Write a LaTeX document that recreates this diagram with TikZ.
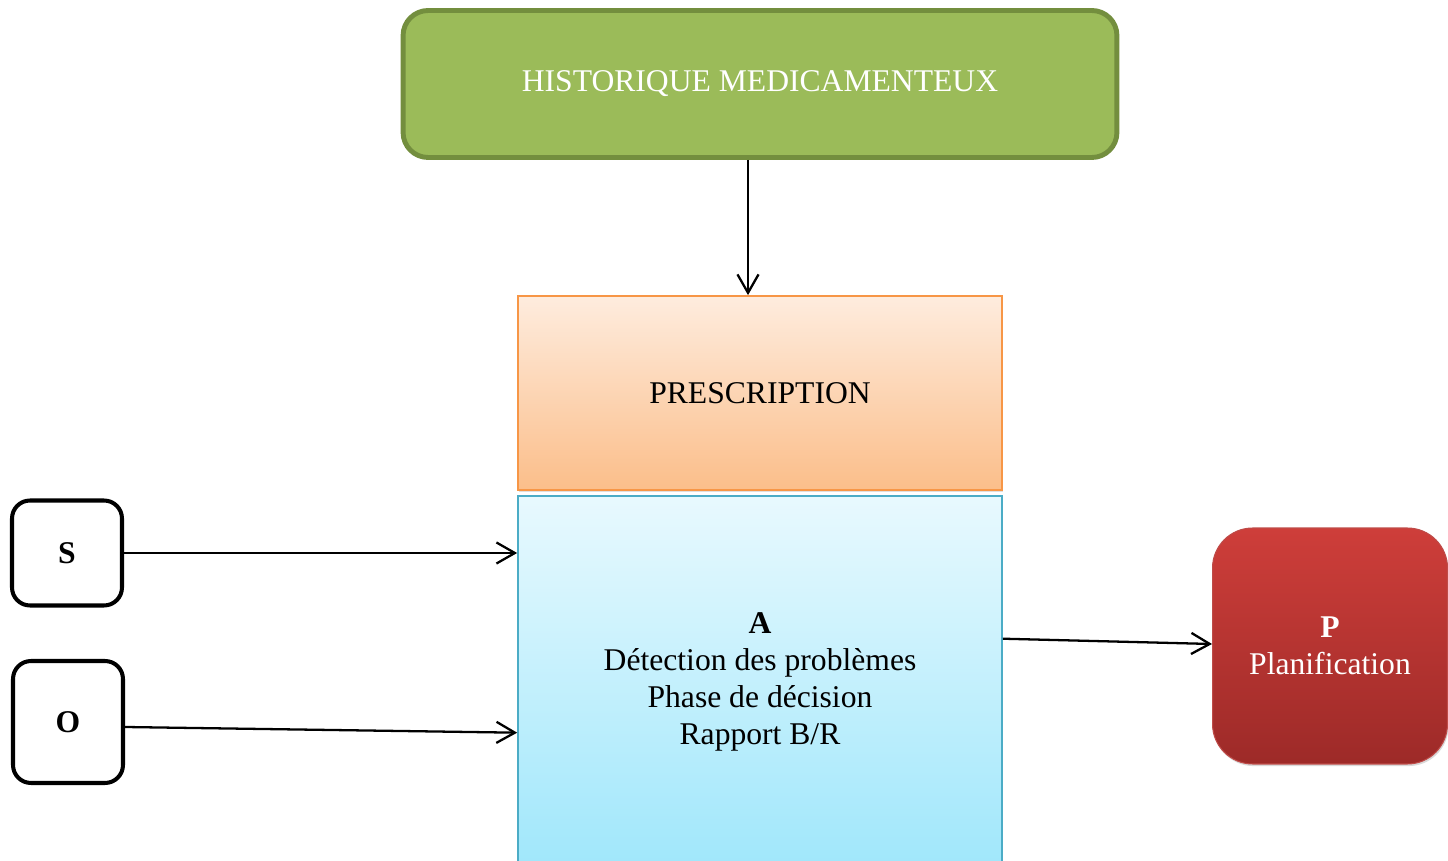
\documentclass[tikz,border=0pt]{standalone}
\usepackage{fontspec}
\setmainfont{Liberation Serif}
\usetikzlibrary{arrows.meta, positioning, shadows}
\definecolor{histfill}{RGB}{155,187,89}
\definecolor{histdraw}{RGB}{115,142,62}
\definecolor{prestop}{RGB}{254,236,222}
\definecolor{presbot}{RGB}{251,190,138}
\definecolor{presdraw}{RGB}{247,150,70}
\definecolor{anatop}{RGB}{232,249,254}
\definecolor{anabot}{RGB}{160,231,251}
\definecolor{anadraw}{RGB}{75,172,198}
\definecolor{plantop}{RGB}{206,62,58}
\definecolor{planbot}{RGB}{157,42,40}
\definecolor{plandraw}{RGB}{190,75,72}

\begin{document}
\begin{tikzpicture}[
    x=0.02cm, y=-0.02cm,
    txt/.style={font=\fontsize{18}{21}\selectfont, align=center, inner sep=0pt},
    hist/.style={txt, draw=histdraw, line width=2.8pt, fill=histfill,
                 rounded corners=0.5cm, text=white,
                 minimum width=14.28cm, minimum height=2.94cm},
    box/.style={txt, line width=1pt, minimum width=9.68cm,
                drop shadow={shadow xshift=0.6pt, shadow yshift=-1pt, opacity=0.25}},
    presc/.style={box, draw=presdraw, top color=prestop, bottom color=presbot,
                  minimum height=3.88cm},
    ana/.style={box, draw=anadraw, top color=anatop, bottom color=anabot,
                minimum height=7.44cm},
    letter/.style={txt, draw, line width=2.3pt, rounded corners=0.36cm,
                   minimum width=2.2cm, font=\fontsize{18}{21}\selectfont\bfseries},
    plan/.style={txt, draw=plandraw, line width=0.6pt, rounded corners=0.8cm,
                 top color=plantop, bottom color=planbot, text=white,
                 minimum width=4.7cm, minimum height=4.72cm,
                 drop shadow={shadow xshift=0.6pt, shadow yshift=-1.2pt, opacity=0.3}},
    arr/.style={-{Straight Barb[length=10.5pt, width=12pt]}, line width=1.3pt}
  ]
  \useasboundingbox (0,0) rectangle (1448,861);
  % top box
  \node[hist] (hist) at (760,84) {\raisebox{-0.1cm}{HISTORIQUE MEDICAMENTEUX}};
  % central column
  \node[presc] (presc) at (760,393) {PRESCRIPTION};
  \node[ana, below=0.08cm of presc] (ana)
    {\textbf{A}\\Détection des problèmes\\Phase de décision\\Rapport B/R};
  % S and O
  \node[letter, minimum height=2.1cm] (subj) at (67,553) {S};
  \node[letter, minimum height=2.44cm] (obj) at (68,722) {O};
  % P
  \node[plan] (plan) at (1330,646) {\textbf{P}\\Planification};
  % Arrows
  \draw[arr] ([xshift=-0.24cm]hist.south) -- ([xshift=-0.24cm]presc.north);
  \draw[arr] (subj.east) -- (subj.east -| ana.west);
  \draw[arr] ([yshift=-0.1cm]obj.east) -- ([yshift=-1.02cm]ana.west);
  \draw[arr] ([yshift=0.86cm]ana.east) -- ([yshift=0.04cm]plan.west);
\end{tikzpicture}
\end{document}
